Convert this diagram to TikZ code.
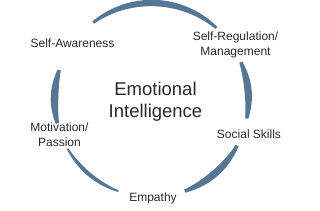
\documentclass[tikz,border=0pt]{standalone}
\usepackage{fontspec}
\setmainfont{Liberation Sans}
\definecolor{ringblue}{RGB}{86, 118, 150}
\definecolor{textgray}{RGB}{40, 40, 40}
\usetikzlibrary{calc}
\tikzset{
	skill/.style={align=center, inner sep=0pt, text=textgray, font=\fontsize{12}{15}\selectfont},
	core/.style={align=center, inner sep=0pt, text=textgray, font=\fontsize{18.5}{22}\selectfont},
	ring/.style={fill=ringblue, draw=none},
}
% tapered ring segment: start angle, end angle, half width
\newcommand{\ringseg}[3]{%
	\fill[ring] plot[domain=#1:#2, samples=40, smooth]
		({(97+#3*(0.45+0.55*sin(180*(\x-#1)/(#2-#1))))*cos(\x)},
		 {(97+#3*(0.45+0.55*sin(180*(\x-#1)/(#2-#1))))*sin(\x)})
		-- plot[domain=#2:#1, samples=40, smooth]
		({(97-#3*(0.45+0.55*sin(180*(\x-#1)/(#2-#1))))*cos(\x)},
		 {(97-#3*(0.45+0.55*sin(180*(\x-#1)/(#2-#1))))*sin(\x)})
		-- cycle;}

\begin{document}
\begin{tikzpicture}[x=1pt, y=1pt]
	\useasboundingbox (-151.5,-110) rectangle (168.5,100);
	% ring
	\ringseg{48}{127}{3.2}
	\ringseg{-11}{23}{3.6}
	\ringseg{-70}{-28}{3.6}
	\ringseg{210}{250}{2.0}
	\ringseg{162}{194}{3.8}
	% labels
	\node[core] (ei) at (4,-2) {Emotional\\Intelligence};
	\node[skill] (aware) at (-79,57) {Self-Awareness};
	\node[skill] (reg) at (84,55) {Self-Regulation/\\Management};
	\node[skill] (social) at (97.5,-34) {Social Skills};
	\node[skill] (empathy) at (1.5,-98) {Empathy};
	\node[skill] (motiv) at (-92,-35) {Motivation/\\Passion};
\end{tikzpicture}
\end{document}
